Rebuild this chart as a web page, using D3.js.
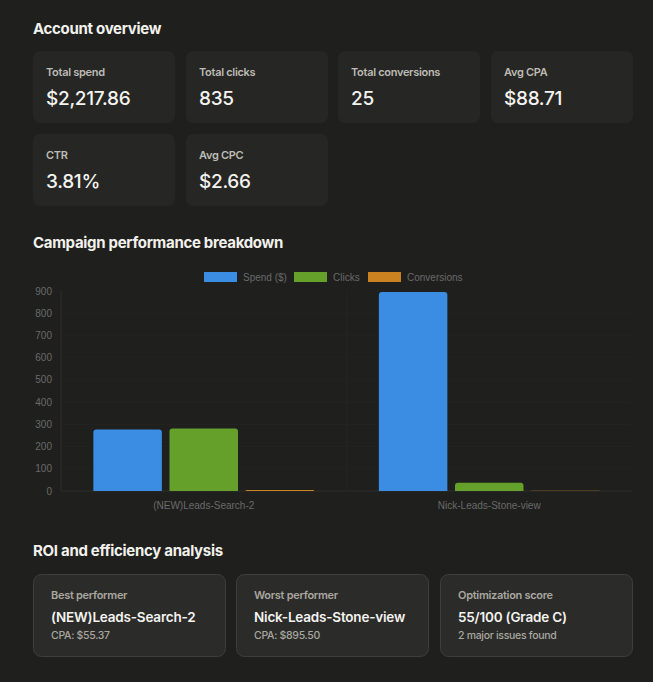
<!DOCTYPE html>
<html>
<head>
<meta charset="utf-8">
<script src="https://cdn.jsdelivr.net/npm/d3@7"></script>
<style>
  body { margin: 0; background: #1f1f1e; }
  svg { display: block; }
</style>
</head>
<body>
<div id="page"></div>
<script>
// overview cards
const overviewLabels = ["Total spend", "Total clicks", "Total conversions", "Avg CPA", "CTR", "Avg CPC"];
const overviewValues = ["$2,217.86", "835", "25", "$88.71", "3.81%", "$2.66"];

// chart data
const campaigns = ["(NEW)Leads-Search-2", "Nick-Leads-Stone-view"];
const seriesNames = ["Spend ($)", "Clicks", "Conversions"];
const spendValues = [276.85, 895.5];
const clickValues = [281, 37];
const conversionValues = [5, 1];
const yTicks = [0, 100, 200, 300, 400, 500, 600, 700, 800, 900];

// ROI cards
const roiLabels = ["Best performer", "Worst performer", "Optimization score"];
const roiTitles = ["(NEW)Leads-Search-2", "Nick-Leads-Stone-view", "55/100 (Grade C)"];
const roiNotes = ["CPA: $55.37", "CPA: $895.50", "2 major issues found"];

const colors = ["#3a8de2", "#65a02a", "#c9821f"];
const uiFont = "Inter, 'Noto Sans', sans-serif";
const chartFont = "'Liberation Sans', Arial, sans-serif";

const width = 653, height = 682;
const svg = d3.select("#page").append("svg")
  .attr("width", width)
  .attr("height", height);

svg.append("rect").attr("width", width).attr("height", height).attr("fill", "#1f1f1e");

function heading(text, y) {
  svg.append("text")
    .attr("x", 33).attr("y", y)
    .attr("fill", "#f2f1ec")
    .attr("font-family", uiFont)
    .attr("font-size", 15)
    .attr("font-weight", 700)
    .attr("letter-spacing", "-0.3")
    .text(text);
}

heading("Account overview", 34);

// ---- overview cards
const cardX = [33, 186, 338, 491];
const cardY = [51, 134];
const cards = svg.append("g").selectAll("g")
  .data(overviewLabels)
  .join("g")
  .attr("transform", (d, i) => `translate(${cardX[i % 4]},${cardY[Math.floor(i / 4)]})`);

cards.append("rect")
  .attr("width", 142).attr("height", 72).attr("rx", 7)
  .attr("fill", "#262625");

cards.append("text")
  .attr("x", 13).attr("y", 25)
  .attr("fill", "#bdbbb3")
  .attr("font-family", uiFont)
  .attr("font-size", 11)
  .attr("font-weight", 600)
  .attr("letter-spacing", "-0.3")
  .text(d => d);

cards.append("text")
  .attr("x", 13).attr("y", 54)
  .attr("fill", "#f4f3ef")
  .attr("font-family", uiFont)
  .attr("font-size", 19)
  .attr("font-weight", 500)
  .attr("letter-spacing", "-0.3")
  .text((d, i) => overviewValues[i]);

// ---- bar chart
heading("Campaign performance breakdown", 248);

const plot = { left: 61, right: 632, top: 291, bottom: 491 };
const x0 = d3.scaleBand().domain(campaigns).range([plot.left, plot.right]).padding(0);
const x1 = d3.scaleBand().domain(seriesNames)
  .range([x0.bandwidth() * 0.1, x0.bandwidth() * 0.9])
  .paddingInner(0.1).paddingOuter(0.05);
const y = d3.scaleLinear().domain([0, 900]).range([plot.bottom, plot.top]);

const chart = svg.append("g");

// grid
chart.append("g").selectAll("line")
  .data(yTicks)
  .join("line")
  .attr("x1", plot.left).attr("x2", plot.right)
  .attr("y1", d => y(d)).attr("y2", d => y(d))
  .attr("stroke", d => d === 0 ? "#2e2e2d" : "#232322");

chart.append("g").selectAll("line")
  .data(campaigns.map(c => x0(c) + x0.bandwidth()))
  .join("line")
  .attr("x1", d => d).attr("x2", d => d)
  .attr("y1", plot.top).attr("y2", plot.bottom)
  .attr("stroke", "#232322");

chart.append("line")
  .attr("x1", plot.left).attr("x2", plot.left)
  .attr("y1", plot.top).attr("y2", plot.bottom)
  .attr("stroke", "#2e2e2d");

// y tick labels
chart.append("g").selectAll("text")
  .data(yTicks)
  .join("text")
  .attr("x", 52).attr("y", d => y(d) + 3.5)
  .attr("text-anchor", "end")
  .attr("fill", "#6a6a6a")
  .attr("font-family", chartFont)
  .attr("font-size", 10)
  .text(d => d);

// x labels
chart.append("g").selectAll("text")
  .data(campaigns)
  .join("text")
  .attr("x", d => x0(d) + x0.bandwidth() / 2)
  .attr("y", 509)
  .attr("text-anchor", "middle")
  .attr("fill", "#6a6a6a")
  .attr("font-family", chartFont)
  .attr("font-size", 10)
  .text(d => d);

function topRounded(x, y0, w, h, r) {
  r = Math.min(r, h, w / 2);
  return `M${x},${y0 + h}V${y0 + r}Q${x},${y0} ${x + r},${y0}H${x + w - r}Q${x + w},${y0} ${x + w},${y0 + r}V${y0 + h}Z`;
}

const seriesValues = [spendValues, clickValues, conversionValues];
const barData = [];
campaigns.forEach((c, ci) => {
  seriesNames.forEach((s, si) => {
    barData.push({ campaign: c, series: s, si, value: seriesValues[si][ci] });
  });
});

chart.append("g").selectAll("path")
  .data(barData)
  .join("path")
  .attr("d", d => {
    const bx = x0(d.campaign) + x1(d.series);
    const top = y(d.value);
    return topRounded(bx, top, x1.bandwidth(), y(0) - top, 3);
  })
  .attr("fill", d => colors[d.si]);

// legend
const legendX = [204, 294, 368];
const legend = svg.append("g").selectAll("g")
  .data(seriesNames)
  .join("g")
  .attr("transform", (d, i) => `translate(${legendX[i]},272)`);

legend.append("rect")
  .attr("width", 33).attr("height", 10)
  .attr("fill", (d, i) => colors[i]);

legend.append("text")
  .attr("x", 39).attr("y", 9)
  .attr("fill", "#6a6a6a")
  .attr("font-family", chartFont)
  .attr("font-size", 10)
  .text(d => d);

// ---- ROI cards
heading("ROI and efficiency analysis", 556);

const roiX = [33, 236, 440];
const roi = svg.append("g").selectAll("g")
  .data(roiLabels)
  .join("g")
  .attr("transform", (d, i) => `translate(${roiX[i]},574)`);

roi.append("rect")
  .attr("x", 0.5).attr("y", 0.5)
  .attr("width", 192).attr("height", 82).attr("rx", 8)
  .attr("fill", "#2b2b2a")
  .attr("stroke", "#3e3e3c");

roi.append("text")
  .attr("x", 18).attr("y", 25)
  .attr("fill", "#a9a79f")
  .attr("font-family", uiFont)
  .attr("font-size", 11)
  .attr("font-weight", 600)
  .attr("letter-spacing", "-0.3")
  .text(d => d);

roi.append("text")
  .attr("x", 18).attr("y", 48)
  .attr("fill", "#f4f3ef")
  .attr("font-family", uiFont)
  .attr("font-size", 13.5)
  .attr("font-weight", 600)
  .attr("letter-spacing", "-0.2")
  .text((d, i) => roiTitles[i]);

roi.append("text")
  .attr("x", 18).attr("y", 65)
  .attr("fill", "#a9a79f")
  .attr("font-family", uiFont)
  .attr("font-size", 10.5)
  .attr("font-weight", 500)
  .attr("letter-spacing", "-0.3")
  .text((d, i) => roiNotes[i]);
</script>
</body>
</html>
